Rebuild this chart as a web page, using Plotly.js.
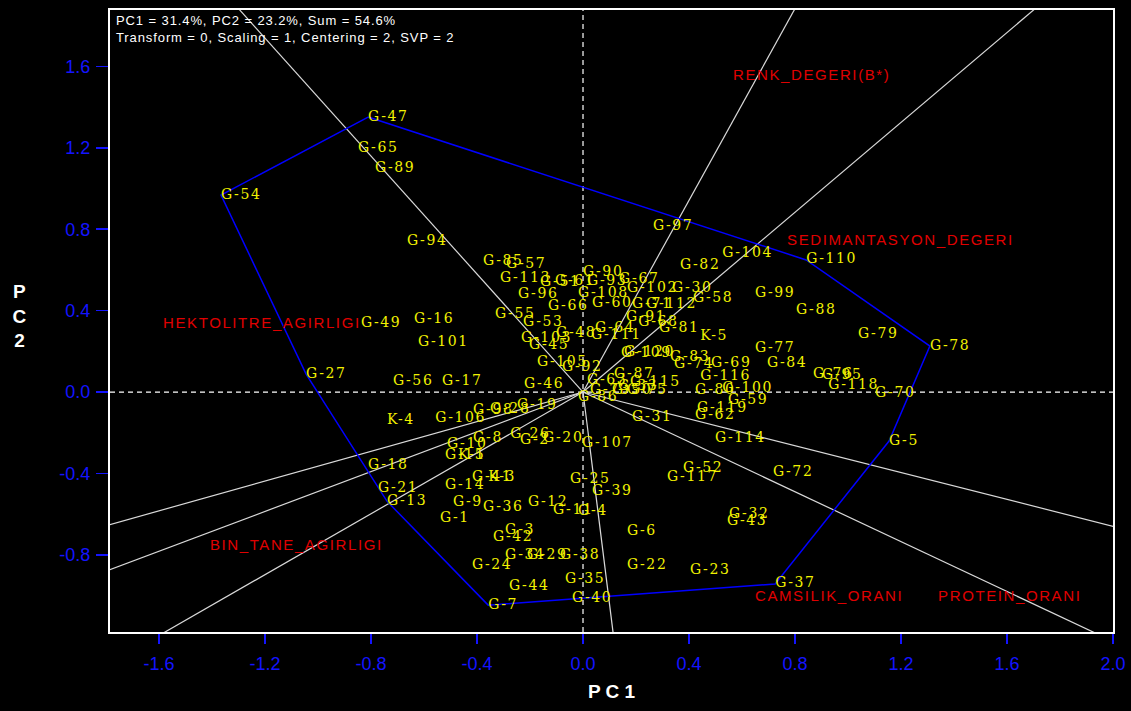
<!DOCTYPE html>
<html>
<head>
<meta charset="utf-8">
<script src="https://cdn.plot.ly/plotly-3.0.1.min.js"></script>
<style>
  html, body { margin: 0; padding: 0; background: #000; }
  #biplot .textpoint text { letter-spacing: 1.6px; }
  #biplot .annotation-text { letter-spacing: 0.9px; }
</style>
</head>
<body>
<div id="biplot" style="width:1131px;height:711px;"></div>
<script>
// Genotype scores on the first two principal components
const genotypes = [
  'G-47','G-65','G-89','G-54','G-94','G-97','G-104','G-110','G-82','G-99',
  'G-88','G-79','G-78','G-58','G-30','G-102','G-67','G-90','G-93','G-108',
  'G-60','G-71','G-112','G-91','G-68','G-81','K-5','G-85','G-57','G-113',
  'G-51','G-61','G-96','G-66','G-55','G-53','G-48','G-103','G-45','G-64',
  'G-111','G-105','G-92','G-109','G-120','G-83','G-74','G-69','G-77','G-84',
  'G-116','G-76','G-95','G-118','G-70','G-80','G-100','G-59','G-119','G-62',
  'G-31','G-114','G-5','G-63','G-87','G-115','G-33','G-73','G-50','G-75',
  'G-86','G-49','G-16','G-101','G-27','G-56','G-17','K-4','G-46','G-106',
  'G-98','G-28','G-19','G-8','G-10','G-15','K-1','G-26','G-2','G-20',
  'G-107','G-18','G-21','G-13','G-14','G-41','K-3','G-9','G-36','G-1',
  'G-12','G-11','G-4','G-25','G-39','G-3','G-42','G-34','G-29','G-38',
  'G-24','G-44','G-35','G-7','G-40','G-6','G-22','G-23','G-37','G-117',
  'G-52','G-72','G-32','G-43'
];
const genoPC1 = [
  -0.811,-0.849,-0.785,-1.366,-0.664, 0.264, 0.525, 0.842, 0.366, 0.649,
   0.804, 1.038, 1.309, 0.415, 0.336, 0.166, 0.136, 0.000, 0.015,-0.019,
   0.034, 0.185, 0.238, 0.162, 0.208, 0.287, 0.442,-0.377,-0.291,-0.313,
  -0.162,-0.106,-0.245,-0.132,-0.332,-0.226,-0.102,-0.234,-0.204, 0.045,
   0.030,-0.174,-0.079, 0.143, 0.155, 0.328, 0.343, 0.483, 0.649, 0.694,
   0.442, 0.868, 0.902, 0.925, 1.102, 0.423, 0.525, 0.547, 0.430, 0.423,
   0.185, 0.498, 1.155, 0.015, 0.117, 0.177, 0.132, 0.026, 0.109, 0.166,
  -0.019,-0.838,-0.638,-0.623,-1.045,-0.717,-0.532,-0.740,-0.223,-0.558,
  -0.415,-0.351,-0.249,-0.415,-0.513,-0.521,-0.472,-0.275,-0.238,-0.151,
  -0.004,-0.811,-0.774,-0.740,-0.521,-0.419,-0.358,-0.491,-0.377,-0.540,
  -0.208,-0.113,-0.019,-0.049, 0.034,-0.294,-0.340,-0.294,-0.211,-0.087,
  -0.419,-0.279,-0.068,-0.358,-0.042, 0.166, 0.166, 0.404, 0.725, 0.317,
   0.377, 0.717, 0.551, 0.543
];
const genoPC2 = [
   1.351, 1.199, 1.096, 0.968, 0.742, 0.811, 0.683, 0.649, 0.624, 0.486,
   0.403, 0.285, 0.226, 0.462, 0.511, 0.511, 0.555, 0.585, 0.541, 0.486,
   0.437, 0.428, 0.428, 0.364, 0.344, 0.314, 0.275, 0.639, 0.629, 0.560,
   0.536, 0.541, 0.477, 0.418, 0.383, 0.344, 0.290, 0.265, 0.231, 0.314,
   0.280, 0.147, 0.123, 0.187, 0.192, 0.172, 0.133, 0.138, 0.216, 0.138,
   0.074, 0.088, 0.079, 0.034,-0.005, 0.010, 0.015,-0.044,-0.079,-0.113,
  -0.123,-0.226,-0.241, 0.059, 0.084, 0.049, 0.029, 0.010, 0.010, 0.010,
  -0.029, 0.339, 0.354, 0.241, 0.088, 0.054, 0.054,-0.138, 0.039,-0.128,
  -0.093,-0.088,-0.064,-0.226,-0.260,-0.310,-0.310,-0.211,-0.236,-0.226,
  -0.251,-0.359,-0.472,-0.536,-0.457,-0.418,-0.418,-0.541,-0.565,-0.619,
  -0.541,-0.580,-0.585,-0.432,-0.491,-0.678,-0.717,-0.801,-0.801,-0.801,
  -0.850,-0.953,-0.919,-1.047,-1.012,-0.683,-0.850,-0.875,-0.943,-0.418,
  -0.378,-0.393,-0.600,-0.634
];

// Trait (environment) positions
const traits = ['RENK_DEGERI(B*)','SEDIMANTASYON_DEGERI','HEKTOLITRE_AGIRLIGI',
                'BIN_TANE_AGIRLIGI','CAMSILIK_ORANI','PROTEIN_ORANI'];
const traitPC1 = [0.566, 0.770, -1.585, -1.408, 0.649, 1.340];
const traitPC2 = [1.553, 0.742, 0.334, -0.757, -1.007, -1.007];

// Vertex genotypes of the which-won-where polygon, in drawing order
const hullGenotypes = ['G-47','G-110','G-78','G-5','G-37','G-7','G-13','G-27','G-54'];

// Axis tick values
const tickVals = [-1.6,-1.2,-0.8,-0.4,0.0,0.4,0.8,1.2,1.6,2.0];
const yTickVals = [-0.8,-0.4,0.0,0.4,0.8,1.2,1.6];

const xRange = [-1.785, 2.0];
const yRange = [-1.179, 1.877];

// Polygon coordinates looked up from the genotype scores
const hullX = [], hullY = [];
hullGenotypes.forEach(g => {
  const i = genotypes.indexOf(g);
  hullX.push(genoPC1[i]); hullY.push(genoPC2[i]);
});
hullX.push(hullX[0]); hullY.push(hullY[0]);

// Rays from the origin perpendicular to each polygon side
const rayX = [], rayY = [];
for (let k = 0; k < hullGenotypes.length; k++) {
  const x1 = hullX[k], y1 = hullY[k], x2 = hullX[k + 1], y2 = hullY[k + 1];
  const dx = x2 - x1, dy = y2 - y1;
  let nx = dy, ny = -dx;
  const mx = (x1 + x2) / 2, my = (y1 + y2) / 2;
  if (nx * mx + ny * my < 0) { nx = -nx; ny = -ny; }
  const len = Math.hypot(nx, ny);
  const t = 10 / len;
  rayX.push(0, nx * t, null);
  rayY.push(0, ny * t, null);
}

const blue = '#1414ff';

const traces = [
  {
    x: rayX, y: rayY, mode: 'lines', type: 'scatter',
    line: { color: '#d9d9d9', width: 1.2 }, hoverinfo: 'skip', showlegend: false
  },
  {
    x: hullX, y: hullY, mode: 'lines', type: 'scatter',
    line: { color: '#0000ff', width: 1.5 }, hoverinfo: 'skip', showlegend: false
  },
  {
    x: genoPC1, y: genoPC2, text: genotypes, mode: 'text', type: 'scatter',
    textposition: 'middle right',
    textfont: { family: 'DejaVu Serif, Liberation Serif, serif', size: 14, color: '#f2f200' },
    showlegend: false, cliponaxis: false
  },
  {
    x: traitPC1, y: traitPC2, text: traits, mode: 'text', type: 'scatter',
    textposition: 'middle right',
    textfont: { family: 'Liberation Sans, Arial, sans-serif', size: 15, color: '#e00000' },
    showlegend: false, cliponaxis: false
  }
];

const layout = {
  width: 1131, height: 711,
  margin: { l: 110, r: 18, t: 10, b: 79 },
  paper_bgcolor: '#000', plot_bgcolor: '#000',
  showlegend: false,
  xaxis: {
    range: xRange, tickvals: tickVals, ticktext: tickVals.map(v => v.toFixed(1)),
    ticks: 'outside', ticklen: 10, tickwidth: 1.5, tickcolor: blue,
    tickfont: { family: 'Liberation Sans, Arial, sans-serif', size: 18, color: blue },
    ticklabelstandoff: 4,
    showline: true, mirror: true, linecolor: '#ffffff', linewidth: 2,
    showgrid: false, zeroline: false,
    title: { text: '<b>P C 1</b>', font: { family: 'Liberation Sans, Arial, sans-serif', size: 19, color: '#ffffff' }, standoff: 12 }
  },
  yaxis: {
    range: yRange, tickvals: yTickVals, ticktext: yTickVals.map(v => v.toFixed(1)),
    ticks: 'outside', ticklen: 12, tickwidth: 1.5, tickcolor: blue,
    tickfont: { family: 'Liberation Sans, Arial, sans-serif', size: 18, color: blue },
    ticklabelstandoff: 2,
    showline: true, mirror: true, linecolor: '#ffffff', linewidth: 2,
    showgrid: false, zeroline: false
  },
  shapes: [
    { type: 'line', xref: 'x', yref: 'y', x0: 0, x1: 0, y0: yRange[0], y1: yRange[1],
      line: { color: '#ffffff', width: 1.2, dash: '5px,4px' }, layer: 'below' },
    { type: 'line', xref: 'x', yref: 'y', x0: xRange[0], x1: xRange[1], y0: 0, y1: 0,
      line: { color: '#ffffff', width: 1.2, dash: '5px,4px' }, layer: 'below' }
  ],
  annotations: [
    {
      xref: 'paper', yref: 'paper', x: 0.004, y: 0.998, xanchor: 'left', yanchor: 'top',
      align: 'left', showarrow: false,
      text: 'PC1 = 31.4%, PC2 = 23.2%, Sum = 54.6%<br>Transform = 0, Scaling = 1, Centering = 2, SVP = 2',
      font: { family: 'Liberation Sans, Arial, sans-serif', size: 13, color: '#ffffff' }
    },
    {
      xref: 'paper', yref: 'paper', x: -0.09, y: 0.508, xanchor: 'center', yanchor: 'middle',
      showarrow: false, align: 'center',
      text: '<b>P<br>C<br>2</b>',
      font: { family: 'Liberation Sans, Arial, sans-serif', size: 19, color: '#ffffff' }
    }
  ]
};

Plotly.newPlot('biplot', traces, layout, { displayModeBar: false, staticPlot: true });
</script>
</body>
</html>
